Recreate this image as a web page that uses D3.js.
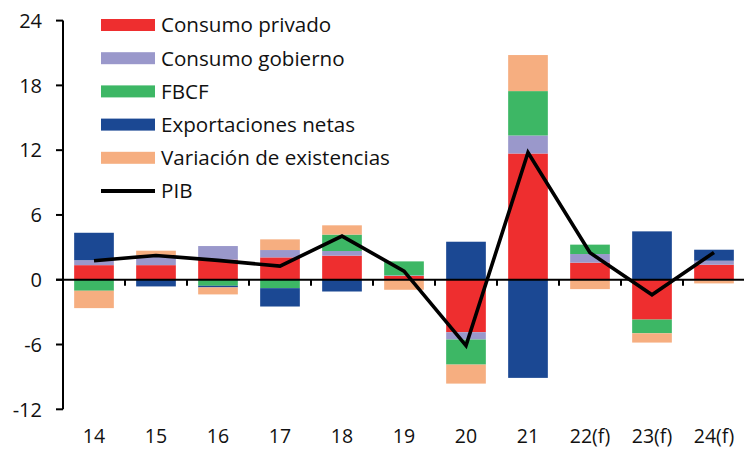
<!DOCTYPE html>
<html>
<head>
<meta charset="utf-8">
<script src="https://cdn.jsdelivr.net/npm/d3@7/dist/d3.min.js"></script>
<style>
  html, body { margin: 0; padding: 0; background: #fff; }
  svg { display: block; font-family: "Open Sans", "Noto Sans", sans-serif; }
</style>
</head>
<body>
<svg id="chart" width="744" height="449"></svg>
<script>
// Contributions to GDP growth (pp) by demand component
const years = ["14", "15", "16", "17", "18", "19", "20", "21", "22(f)", "23(f)", "24(f)"];
const consumoPrivado   = [1.35, 1.35, 1.86, 2.07, 2.23, 0.35, -4.86, 11.69, 1.58, -3.69, 1.39];
const consumoGobierno  = [0.46, 0.90, 1.26, 0.68, 0.43, 0.05, -0.68, 1.67, 0.80, 0.00, 0.37];
const fbcf             = [-1.02, 0.00, -0.56, -0.78, 1.52, 1.30, -2.32, 4.11, 0.87, -1.27, 0.00];
const exportNetas      = [2.54, -0.62, -0.15, -1.70, -1.09, 0.00, 3.52, -9.09, 0.00, 4.48, 1.02];
const varExistencias   = [-1.61, 0.44, -0.65, 0.99, 0.86, -0.93, -1.76, 3.34, -0.87, -0.86, -0.34];
const pib              = [1.76, 2.25, 1.79, 1.26, 4.04, 0.80, -6.10, 11.78, 2.50, -1.39, 2.53];
const yTicks = [-12, -6, 0, 6, 12, 18, 24];

const seriesNames = ["Consumo privado", "Consumo gobierno", "FBCF", "Exportaciones netas", "Variación de existencias"];
const seriesValues = [consumoPrivado, consumoGobierno, fbcf, exportNetas, varExistencias];
const seriesColors = ["#ee2e2f", "#9a98cb", "#3db765", "#1b4893", "#f6ae80"];

const svg = d3.select("#chart");

const x = d3.scaleBand()
  .domain(years)
  .range([63, 745])
  .paddingInner(0.36)
  .paddingOuter(0.18);

const y = d3.scaleLinear().domain([-12, 24]).range([409.3, 20.6]);

// rows for the stack
const rows = years.map((yr, i) => {
  const r = { year: yr };
  seriesNames.forEach((n, k) => { r[n] = seriesValues[k][i]; });
  return r;
});

const stack = d3.stack()
  .keys(seriesNames)
  .offset(d3.stackOffsetDiverging);
const stacked = stack(rows);

// bars
svg.append("g")
  .selectAll("g")
  .data(stacked)
  .join("g")
  .attr("fill", (d, i) => seriesColors[i])
  .selectAll("rect")
  .data(d => d)
  .join("rect")
  .attr("x", d => x(d.data.year))
  .attr("width", x.bandwidth())
  .attr("y", d => y(Math.max(d[0], d[1])))
  .attr("height", d => Math.abs(y(d[0]) - y(d[1])));

// y axis
const yAxis = svg.append("g").attr("transform", "translate(63,0)");
yAxis.append("line")
  .attr("x1", 0).attr("x2", 0)
  .attr("y1", y(24)).attr("y2", y(-12))
  .attr("stroke", "#000").attr("stroke-width", 2);
yAxis.selectAll("line.tick")
  .data(yTicks)
  .join("line")
  .attr("class", "tick")
  .attr("x1", -7).attr("x2", 0)
  .attr("y1", d => y(d)).attr("y2", d => y(d))
  .attr("stroke", "#000").attr("stroke-width", 2);
yAxis.selectAll("text")
  .data(yTicks)
  .join("text")
  .attr("x", -21)
  .attr("y", d => y(d))
  .attr("dy", "0.36em")
  .attr("text-anchor", "end")
  .attr("font-size", 20)
  .attr("fill", "#111")
  .text(d => d);

// zero line with category separators
const xAxis = svg.append("g");
xAxis.append("line")
  .attr("x1", 56).attr("x2", 744)
  .attr("y1", y(0)).attr("y2", y(0))
  .attr("stroke", "#000").attr("stroke-width", 2);
const sepX = years.slice(1).map(yr => x(yr) - x.step() * x.paddingInner() / 2);
xAxis.selectAll("line.sep")
  .data(sepX)
  .join("line")
  .attr("class", "sep")
  .attr("x1", d => d).attr("x2", d => d)
  .attr("y1", y(0)).attr("y2", y(0) + 6)
  .attr("stroke", "#000").attr("stroke-width", 2);
xAxis.selectAll("text")
  .data(years)
  .join("text")
  .attr("x", d => x(d) + x.bandwidth() / 2)
  .attr("y", 443)
  .attr("text-anchor", "middle")
  .attr("font-size", 19.5)
  .attr("fill", "#111")
  .text(d => d);

// GDP line
const line = d3.line()
  .x((d, i) => x(years[i]) + x.bandwidth() / 2)
  .y(d => y(d));
svg.append("path")
  .datum(pib)
  .attr("d", line)
  .attr("fill", "none")
  .attr("stroke", "#000")
  .attr("stroke-width", 3.6)
  .attr("stroke-linejoin", "miter");

// legend
const legendItems = seriesNames.map((n, i) => ({ name: n, color: seriesColors[i], type: "bar" }))
  .concat([{ name: "PIB", color: "#000", type: "line" }]);
const legend = svg.append("g");
const lg = legend.selectAll("g")
  .data(legendItems)
  .join("g")
  .attr("transform", (d, i) => `translate(101, ${25 + i * 33.2})`);
lg.filter(d => d.type === "bar")
  .append("rect")
  .attr("x", 0).attr("y", -6)
  .attr("width", 54).attr("height", 12)
  .attr("fill", d => d.color);
lg.filter(d => d.type === "line")
  .append("line")
  .attr("x1", 0).attr("x2", 54)
  .attr("y1", 0).attr("y2", 0)
  .attr("stroke", "#000").attr("stroke-width", 4);
lg.append("text")
  .attr("x", 60)
  .attr("dy", "0.36em")
  .attr("font-size", 20.6)
  .attr("fill", "#111")
  .text(d => d.name);
</script>
</body>
</html>
